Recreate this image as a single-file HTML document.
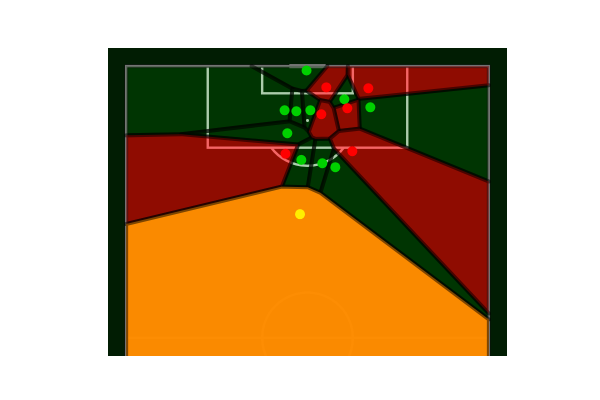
<!DOCTYPE html>
<html>
<head>
<meta charset="utf-8">
<title>Pitch control Voronoi chart</title>
<style>
html,body{margin:0;padding:0;background:#fff;width:600px;height:400px;overflow:hidden}
svg{display:block}
</style>
</head>
<body>
<svg id="chart" width="600" height="400" viewBox="0 0 600 400" xmlns="http://www.w3.org/2000/svg">
  <defs>
    <clipPath id="frame-clip"><rect x="108" y="48" width="399" height="308"></rect></clipPath>
  </defs>
  <rect x="0" y="0" width="600" height="400" fill="#ffffff"></rect>
  <rect x="108" y="48" width="399" height="308" fill="#011d03"></rect>
  <g id="pitch" clip-path="url(#frame-clip)"></g>
  <g id="cells" clip-path="url(#frame-clip)"></g>
  <g id="players" clip-path="url(#frame-clip)"></g>
</svg>
<script>
// Pitch-coordinate data (80 wide, attacking toward y = 0)
const attackersX = [39.79, 48.13, 53.86, 34.95, 37.54, 40.63, 35.55, 38.64, 43.27, 46.14];
const attackersY = [0.97, 7.32, 9.09, 9.75, 9.97, 9.75, 14.82, 20.71, 21.44, 22.32];
const defendersX = [44.15, 53.42, 48.79, 43.05, 35.15, 49.89];
const defendersY = [4.68, 4.90, 9.31, 10.63, 19.35, 18.79];
const ballX = [38.35];
const ballY = [32.69];

const NS = 'http://www.w3.org/2000/svg';
const xDomain = [-4, 84];
const yDomain = [-4, 64];
const xRange = [108, 507];
const yRange = [48, 356];
const pitchBottom = 65;
function xScale(v) { return xRange[0] + (v - xDomain[0]) / (xDomain[1] - xDomain[0]) * (xRange[1] - xRange[0]); }
function yScale(v) { return yRange[0] + (v - yDomain[0]) / (yDomain[1] - yDomain[0]) * (yRange[1] - yRange[0]); }
function make(tag, attrs, parent) {
  const el = document.createElementNS(NS, tag);
  for (const k in attrs) el.setAttribute(k, attrs[k]);
  parent.appendChild(el);
  return el;
}

// Pitch markings
const pitch = document.getElementById('pitch');
const LINE = 'rgb(230,230,230)';
const LINE_W = 2.4;
function pitchPath(d, name) {
  const el = make('path', { d: d, fill: 'none', stroke: LINE, 'stroke-width': LINE_W }, pitch);
  
  
}
pitchPath('M' + xScale(0) + ' ' + yScale(pitchBottom) + ' V' + yScale(0) + ' H' + xScale(80) + ' V' + yScale(pitchBottom), 'pitch-outline');
pitchPath('M' + xScale(18) + ' ' + yScale(0) + ' V' + yScale(18) + ' H' + xScale(62) + ' V' + yScale(0), 'penalty-box');
pitchPath('M' + xScale(30) + ' ' + yScale(0) + ' V' + yScale(6) + ' H' + xScale(50) + ' V' + yScale(0), 'six-yard-box');
const goal = make('rect', { x: xScale(36), y: yScale(0) - 2, width: xScale(44) - xScale(36), height: 4, fill: 'rgb(230,230,230)' }, pitch);


pitchPath('M' + xScale(0) + ' ' + yScale(60) + ' H' + xScale(80), 'halfway-line');
const arcR = 10 * 4.534;
const centre = make('circle', { cx: xScale(40), cy: yScale(60), r: arcR, fill: 'none', stroke: LINE, 'stroke-width': LINE_W }, pitch);


const spot = make('circle', { cx: xScale(40), cy: yScale(12), r: 1.5, fill: LINE }, pitch);


const arcDy = yScale(18) - yScale(12);
const arcDx = Math.sqrt(arcR * arcR - arcDy * arcDy);
pitchPath('M' + (xScale(40) - arcDx) + ' ' + yScale(18) + ' A' + arcR + ' ' + arcR + ' 0 0 0 ' + (xScale(40) + arcDx) + ' ' + yScale(18), 'penalty-arc');

// Combine the series into one site list
const sites = [];
attackersX.forEach((x, i) => sites.push({ x: x, y: attackersY[i], team: 'attacker' }));
defendersX.forEach((x, i) => sites.push({ x: x, y: defendersY[i], team: 'defender' }));
ballX.forEach((x, i) => sites.push({ x: x, y: ballY[i], team: 'ball' }));

const cellFill = { attacker: 'rgb(0,128,0)', defender: 'rgb(255,0,0)', ball: 'rgb(253,140,0)' };
const cellAlpha = { attacker: 0.25, defender: 0.56, ball: 0.99 };
const pointFill = { attacker: '#00d000', defender: '#ff0000', ball: '#ffee00' };

// Voronoi cell: clip the pitch rectangle by each perpendicular bisector (pixel space)
function clipHalf(poly, a, b) {
  const mx = (a.x + b.x) / 2, my = (a.y + b.y) / 2;
  const nx = b.x - a.x, ny = b.y - a.y;
  const side = p => (p[0] - mx) * nx + (p[1] - my) * ny;
  const out = [];
  for (let i = 0; i < poly.length; i++) {
    const p = poly[i], q = poly[(i + 1) % poly.length];
    const sp = side(p), sq = side(q);
    if (sp <= 0) out.push(p);
    if ((sp < 0 && sq > 0) || (sp > 0 && sq < 0)) {
      const t = sp / (sp - sq);
      out.push([p[0] + (q[0] - p[0]) * t, p[1] + (q[1] - p[1]) * t]);
    }
  }
  return out;
}

const cells = document.getElementById('cells');
const pixelSites = sites.map(s => ({ x: xScale(s.x), y: yScale(s.y), team: s.team }));
const drawOrder = pixelSites.map((s, i) => i).sort((a, b) => (pixelSites[a].team === 'ball') - (pixelSites[b].team === 'ball'));
drawOrder.forEach(i => {
  const s = pixelSites[i];
  let poly = [[xScale(0), yScale(0)], [xScale(80), yScale(0)], [xScale(80), yScale(pitchBottom)], [xScale(0), yScale(pitchBottom)]];
  pixelSites.forEach((o, j) => { if (j !== i) poly = clipHalf(poly, s, o); });
  const el = make('polygon', {
    points: poly.map(p => p[0].toFixed(2) + ',' + p[1].toFixed(2)).join(' '),
    fill: cellFill[s.team], 'fill-opacity': cellAlpha[s.team],
    stroke: '#000', 'stroke-opacity': 0.5, 'stroke-width': 4, 'stroke-linejoin': 'round'
  }, cells);
  
  
});

// Points
const players = document.getElementById('players');
sites.forEach(s => {
  const el = make('circle', { cx: xScale(s.x), cy: yScale(s.y), r: 5, fill: pointFill[s.team] }, players);
  
  
});
</script>
</body>
</html>
